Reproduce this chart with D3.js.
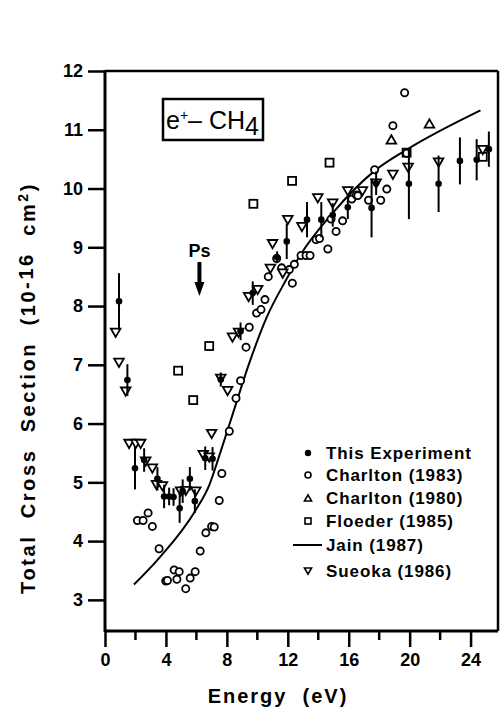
<!DOCTYPE html>
<html>
<head>
<meta charset="utf-8">
<script src="https://cdn.jsdelivr.net/npm/d3@7"></script>
<style>
  body { margin: 0; background: #fff; }
  svg { display: block; font-family: "Liberation Sans", Arial, sans-serif; }
</style>
</head>
<body>
<div id="container"></div>
<script>
/* CONSTANTS AND GLOBALS */
const width = 501,
  height = 708;

// This Experiment: [energy, cross section, error]
const thisExp = [
  [0.92, 8.08, 0.48], [1.47, 6.74, 0.27], [1.97, 5.24, 0.36], [2.57, 5.38, 0.2],
  [3.44, 5.06, 0.2], [3.88, 4.76, 0.2], [4.21, 4.76, 0.15], [4.5, 4.75, 0.15],
  [4.9, 4.56, 0.25], [5.1, 4.85, 0.2], [5.57, 5.06, 0.2], [5.9, 4.68, 0.2],
  [6.58, 5.41, 0.2], [7.06, 5.4, 0.2], [7.6, 6.75, 0.12], [8.9, 7.57, 0.15],
  [9.7, 8.22, 0.2], [11.3, 8.83, 0.1], [11.93, 9.1, 0.3], [13.26, 9.47, 0.3],
  [14.2, 9.47, 0.3], [14.95, 9.55, 0.2], [15.94, 9.68, 0.2], [17.5, 9.67, 0.5],
  [17.8, 10.09, 0.2], [19.95, 10.08, 0.6], [21.9, 10.08, 0.48], [23.3, 10.47, 0.4],
  [24.4, 10.49, 0.35], [25.2, 10.67, 0.3]
];

const charlton83 = [
  [2.13, 4.35], [2.5, 4.35], [2.83, 4.48], [3.11, 4.25], [3.55, 3.87], [3.99, 3.32],
  [4.1, 3.33], [4.54, 3.51], [4.72, 3.35], [4.87, 3.48], [5.3, 3.19], [5.59, 3.37],
  [5.92, 3.48], [6.25, 3.83], [6.62, 4.14], [7.0, 4.25], [7.17, 4.24], [7.5, 4.69],
  [7.67, 5.15], [8.16, 5.87], [8.6, 6.43], [8.9, 6.73], [9.26, 7.3], [9.47, 7.64],
  [9.95, 7.88], [10.24, 7.94], [10.5, 8.11], [10.72, 8.5], [11.27, 8.81], [11.6, 8.65],
  [12.1, 8.62], [12.3, 8.39], [12.43, 8.71], [12.87, 8.86], [13.2, 8.86], [13.46, 8.86],
  [13.86, 9.13], [14.08, 9.15], [14.63, 8.97], [14.84, 9.48], [15.17, 9.27], [15.6, 9.45],
  [16.2, 9.82], [16.5, 9.89], [16.6, 9.88], [17.3, 9.8], [17.7, 10.32], [18.1, 9.8],
  [18.5, 9.99], [18.9, 11.07], [19.67, 11.63], [19.8, 10.6]
];

const charlton80 = [[18.8, 10.83], [21.3, 11.1]];

const floeder = [
  [4.8, 6.9], [5.79, 6.4], [6.84, 7.32], [9.74, 9.74], [12.28, 10.13],
  [14.74, 10.44], [19.8, 10.61], [24.8, 10.54]
];

const sueoka = [
  [0.7, 7.55], [0.92, 7.04], [1.36, 6.55], [1.58, 5.66], [2.02, 5.66], [2.34, 5.66],
  [2.67, 5.36], [3.11, 5.24], [3.38, 4.96], [3.77, 4.94], [4.97, 4.85], [5.3, 4.86],
  [5.96, 4.85], [6.45, 5.47], [6.84, 5.43], [7.0, 5.83], [7.6, 6.77], [8.05, 6.56],
  [8.37, 7.47], [8.77, 7.55], [9.43, 8.16], [10.02, 8.28], [10.86, 8.64], [11.0, 9.06],
  [11.67, 8.56], [12.0, 9.47], [12.93, 9.35], [13.97, 9.84], [14.95, 9.75], [15.94, 9.96],
  [16.9, 9.96], [17.8, 10.09], [18.9, 10.24], [19.9, 10.36], [21.9, 10.45], [24.8, 10.66]
];

const jain = [
  [1.9, 3.26], [3.55, 3.71], [5.96, 4.53], [6.84, 4.95], [7.5, 5.45], [8.26, 6.06],
  [9.47, 7.03], [10.6, 7.8], [11.9, 8.45], [12.9, 8.9], [15, 9.6], [17.7, 10.3],
  [19.8, 10.66], [24.65, 11.33]
];

const yTicks = [3, 4, 5, 6, 7, 8, 9, 10, 11, 12];
const xMajor = [0, 4, 8, 12, 16, 20, 24];
const xMinor = [2, 6, 10, 14, 18, 22];

const legend = [
  {type: "filled", text: "This Experiment"},
  {type: "circle", text: "Charlton (1983)"},
  {type: "up", text: "Charlton (1980)"},
  {type: "square", text: "Floeder (1985)"},
  {type: "line", text: "Jain (1987)"},
  {type: "down", text: "Sueoka (1986)"}
];

/* SCALES */
const xScale = d3.scaleLinear().domain([0, 25.8]).range([105, 498]);
const yScale = d3.scaleLinear().domain([2.47, 12]).range([631, 71]);

const svg = d3.select("#container")
  .append("svg")
  .attr("width", width)
  .attr("height", height);

// frame
svg.append("line").attr("x1", xScale(0)).attr("x2", xScale(0))
  .attr("y1", yScale(12) - 1).attr("y2", yScale(2.47) + 1)
  .attr("stroke", "#000").attr("stroke-width", 3);
svg.append("line").attr("x1", xScale(0)).attr("x2", xScale(25.8))
  .attr("y1", yScale(2.47)).attr("y2", yScale(2.47))
  .attr("stroke", "#000").attr("stroke-width", 3);
svg.append("line").attr("x1", xScale(0)).attr("x2", xScale(25.8))
  .attr("y1", yScale(12)).attr("y2", yScale(12))
  .attr("stroke", "#000").attr("stroke-width", 2.5);
svg.append("line").attr("x1", xScale(25.8)).attr("x2", xScale(25.8))
  .attr("y1", yScale(12)).attr("y2", yScale(2.47))
  .attr("stroke", "#000").attr("stroke-width", 2.5);

// y axis ticks
const yAxis = d3.axisLeft(yScale).tickValues(yTicks).tickSize(17).tickPadding(5)
  .tickFormat(d3.format("d"));
const gy = svg.append("g").attr("transform", `translate(${xScale(0)},0)`).call(yAxis);
gy.select(".domain").remove();
gy.selectAll("line").attr("stroke-width", 2.5);
gy.selectAll("text").style("font-size", "18px").style("font-weight", "bold");

// x axis ticks
const xAxis = d3.axisBottom(xScale).tickValues(xMajor).tickSize(16).tickPadding(6);
const gx = svg.append("g").attr("transform", `translate(0,${yScale(2.47)})`).call(xAxis);
gx.select(".domain").remove();
gx.selectAll("line").attr("stroke-width", 2.5);
gx.selectAll("text").style("font-size", "18px").style("font-weight", "bold");

svg.append("g").selectAll("line").data(xMinor).join("line")
  .attr("x1", d => xScale(d)).attr("x2", d => xScale(d))
  .attr("y1", yScale(2.47)).attr("y2", yScale(2.47) + 9)
  .attr("stroke", "#000").attr("stroke-width", 2.5);

// axis labels
svg.append("text")
  .attr("x", 278).attr("y", 703)
  .attr("text-anchor", "middle")
  .style("font-size", "20px").style("font-weight", "bold")
  .style("letter-spacing", "2px")
  .attr("xml:space", "preserve")
  .text("Energy  (eV)");

const ylab = svg.append("text")
  .attr("transform", "translate(35,388) rotate(-90)")
  .attr("text-anchor", "middle")
  .style("font-size", "20px").style("font-weight", "bold")
  .style("letter-spacing", "2.6px")
  .attr("xml:space", "preserve");
ylab.append("tspan").text("Total  Cross  Section  (10");
ylab.append("tspan").attr("dy", -2).text("-16");
ylab.append("tspan").attr("dy", 2).text("  cm");
ylab.append("tspan").attr("dy", -7).style("font-size", "14px").text("2");
ylab.append("tspan").attr("dy", 7).text(")");

// title box
svg.append("rect")
  .attr("x", 163).attr("y", 99).attr("width", 100).attr("height", 41)
  .attr("fill", "none").attr("stroke", "#000").attr("stroke-width", 2.5);
const title = svg.append("text")
  .attr("x", 166).attr("y", 129)
  .style("font-size", "25px");
title.append("tspan").text("e");
title.append("tspan").attr("dy", -9).style("font-size", "14px").text("+");
title.append("tspan").attr("dy", 9).text("– CH");
title.append("tspan").attr("dy", 6).text("4");

// Ps annotation
svg.append("text")
  .attr("x", xScale(6.2)).attr("y", 257)
  .attr("text-anchor", "middle")
  .style("font-size", "18px").style("font-weight", "bold")
  .text("Ps");
const ax = xScale(6.2);
svg.append("path")
  .attr("d", `M${ax - 2},262 L${ax + 2},262 L${ax + 2},282 L${ax + 5},282 L${ax},296 L${ax - 5},282 L${ax - 2},282 Z`)
  .attr("fill", "#000");

/* HTML ELEMENTS */
const tri = d3.symbol().type(d3.symbolTriangle).size(40);

// Jain curve
const line = d3.line()
  .x(d => xScale(d[0]))
  .y(d => yScale(d[1]))
  .curve(d3.curveMonotoneX);
svg.append("path").datum(jain)
  .attr("d", line)
  .attr("fill", "none").attr("stroke", "#000").attr("stroke-width", 2);

// Floeder squares
svg.append("g").selectAll("rect").data(floeder).join("rect")
  .attr("x", d => xScale(d[0]) - 4).attr("y", d => yScale(d[1]) - 4)
  .attr("width", 8).attr("height", 8)
  .attr("fill", "#fff").attr("stroke", "#000").attr("stroke-width", 1.8);

// Charlton 1983 circles
svg.append("g").selectAll("circle").data(charlton83).join("circle")
  .attr("cx", d => xScale(d[0])).attr("cy", d => yScale(d[1])).attr("r", 3.6)
  .attr("fill", "#fff").attr("stroke", "#000").attr("stroke-width", 1.8);

// Charlton 1980 triangles up
svg.append("g").selectAll("path").data(charlton80).join("path")
  .attr("d", tri)
  .attr("transform", d => `translate(${xScale(d[0])},${yScale(d[1]) + 1})`)
  .attr("fill", "#fff").attr("stroke", "#000").attr("stroke-width", 1.8);

// Sueoka triangles down
svg.append("g").selectAll("path").data(sueoka).join("path")
  .attr("d", tri)
  .attr("transform", d => `translate(${xScale(d[0])},${yScale(d[1]) - 1}) rotate(180)`)
  .attr("fill", "#fff").attr("stroke", "#000").attr("stroke-width", 1.8);

// This experiment with error bars
svg.append("g").selectAll("line").data(thisExp).join("line")
  .attr("x1", d => xScale(d[0])).attr("x2", d => xScale(d[0]))
  .attr("y1", d => yScale(d[1] - d[2])).attr("y2", d => yScale(d[1] + d[2]))
  .attr("stroke", "#000").attr("stroke-width", 2);
svg.append("g").selectAll("circle").data(thisExp).join("circle")
  .attr("cx", d => xScale(d[0])).attr("cy", d => yScale(d[1])).attr("r", 3.3)
  .attr("fill", "#000");

// Legend
const lg = svg.append("g");
legend.forEach((d, i) => {
  const ly = [453, 475, 498, 521, 545, 571][i];
  const mx = 308;
  if (d.type === "filled") {
    lg.append("circle").attr("cx", mx).attr("cy", ly).attr("r", 3.2).attr("fill", "#000");
  } else if (d.type === "circle") {
    lg.append("circle").attr("cx", mx).attr("cy", ly).attr("r", 3)
      .attr("fill", "#fff").attr("stroke", "#000").attr("stroke-width", 1.6);
  } else if (d.type === "up") {
    lg.append("path").attr("d", d3.symbol().type(d3.symbolTriangle).size(22))
      .attr("transform", `translate(${mx},${ly + 1})`)
      .attr("fill", "#fff").attr("stroke", "#000").attr("stroke-width", 1.6);
  } else if (d.type === "down") {
    lg.append("path").attr("d", d3.symbol().type(d3.symbolTriangle).size(22))
      .attr("transform", `translate(${mx},${ly - 1}) rotate(180)`)
      .attr("fill", "#fff").attr("stroke", "#000").attr("stroke-width", 1.6);
  } else if (d.type === "square") {
    lg.append("rect").attr("x", mx - 3).attr("y", ly - 3).attr("width", 6).attr("height", 6)
      .attr("fill", "#fff").attr("stroke", "#000").attr("stroke-width", 1.6);
  } else {
    lg.append("line").attr("x1", 293).attr("x2", 322).attr("y1", ly).attr("y2", ly)
      .attr("stroke", "#000").attr("stroke-width", 2);
  }
  lg.append("text")
    .attr("x", 326).attr("y", ly)
    .attr("dominant-baseline", "central")
    .style("font-size", "17px").style("font-weight", "bold")
    .style("letter-spacing", "0.9px")
    .text(d.text);
});
</script>
</body>
</html>
